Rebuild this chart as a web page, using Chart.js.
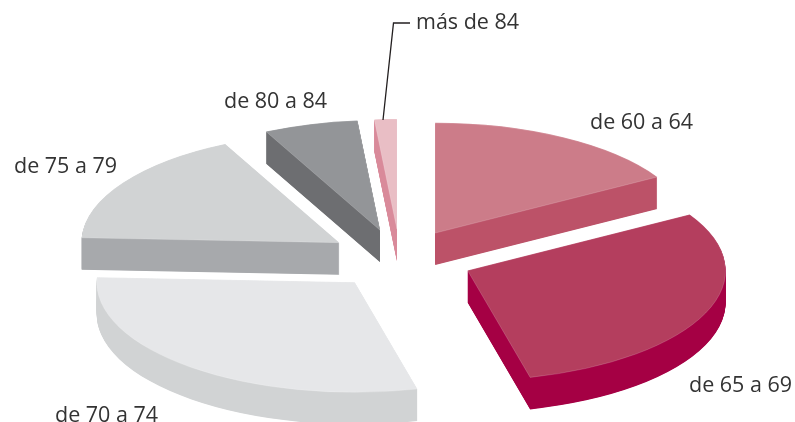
<!DOCTYPE html>
<html>
<head>
<meta charset="utf-8">
<style>
  html, body { margin: 0; padding: 0; background: #fff; }
  canvas { display: block; }
</style>
<script src="https://cdn.jsdelivr.net/npm/chart.js@4/dist/chart.umd.min.js"></script>
</head>
<body>
<canvas id="myChart" width="795" height="422"></canvas>
<script>
const categories = ['de 60 a 64', 'de 65 a 69', 'de 70 a 74', 'de 75 a 79', 'de 80 a 84', 'más de 84'];
const shares = [16.5, 29.6, 29.6, 17.0, 5.9, 1.4];
const topColors = ['#cc7c89', '#b43e5e', '#e6e7e9', '#d1d3d4', '#939598', '#e9bec5'];
const sideColors = ['#bc5268', '#a50044', '#d1d3d4', '#a7a9ac', '#6d6e71', '#d98a9a'];

// where the labels sit on the page
const labelX = [590, 689, 55, 14, 224, 416];
const labelY = [123, 386, 416, 167, 102, 23];

// fake 3d: squash the pie and stack copies of it downwards
const tilt = 0.427;
const depth = 32;
const explode = 70;
const nudgeX = [0.5, 3, -1, -2, -1, 0];
const centerY = 259;
const drawOrder = [5, 4, 3, 0, 2, 1];

function place(ctx, i, mid, cy, d) {
    ctx.translate(nudgeX[i], centerY + d);
    ctx.scale(1, tilt);
    ctx.translate(Math.cos(mid) * explode, Math.sin(mid) * explode - cy);
}

const pie3d = {
    id: 'pie3d',
    beforeDatasetDraw(chart, args) {
        const ctx = chart.ctx;
        const arcs = args.meta.data;
        const cy = arcs[0].y;

        drawOrder.forEach(i => {
            const arc = arcs[i];
            const mid = (arc.startAngle + arc.endAngle) / 2;
            const realOptions = arc.options;

            // the stack goes on a spare canvas and gets recoloured in one go,
            // otherwise the colour drifts in bands from all the overdrawing
            const spare = document.createElement('canvas');
            spare.width = chart.width;
            spare.height = chart.height;
            const sctx = spare.getContext('2d');
            arc.options = Object.assign({}, realOptions, { borderWidth: 0 });
            for (let d = depth; d > 0; d -= 0.5) {
                sctx.save();
                place(sctx, i, mid, cy, d);
                arc.draw(sctx);
                sctx.restore();
            }
            sctx.globalCompositeOperation = 'source-in';
            sctx.fillStyle = sideColors[i];
            sctx.fillRect(0, 0, spare.width, spare.height);
            ctx.drawImage(spare, 0, 0);

            ctx.save();
            place(ctx, i, mid, cy, 0);
            arc.options = Object.assign({}, realOptions, {
                backgroundColor: topColors[i],
                borderWidth: 0.8,
                borderColor: 'rgba(255,255,255,0.3)'
            });
            arc.draw(ctx);
            ctx.restore();
            arc.options = realOptions;
        });
        return false;
    },
    afterDraw(chart) {
        const ctx = chart.ctx;
        ctx.save();
        ctx.strokeStyle = '#231f20';
        ctx.lineWidth = 1.3;
        ctx.beginPath();
        ctx.moveTo(383, 120);
        ctx.lineTo(393.5, 23);
        ctx.lineTo(410, 23);
        ctx.stroke();

        ctx.fillStyle = '#333333';
        ctx.font = '21.5px "Open Sans"';
        ctx.textBaseline = 'middle';
        categories.forEach((c, i) => ctx.fillText(c, labelX[i], labelY[i]));
        ctx.restore();
    }
};

new Chart('myChart', {
    type: 'pie',
    data: {
        labels: categories,
        datasets: [{
            data: shares,
            backgroundColor: topColors,
            borderWidth: 0
        }]
    },
    options: {
        responsive: false,
        animation: false,
        radius: 258,
        layout: { padding: { left: 5 } },
        plugins: {
            legend: { display: false },
            tooltip: { enabled: false }
        }
    },
    plugins: [pie3d]
});
</script>
</body>
</html>
